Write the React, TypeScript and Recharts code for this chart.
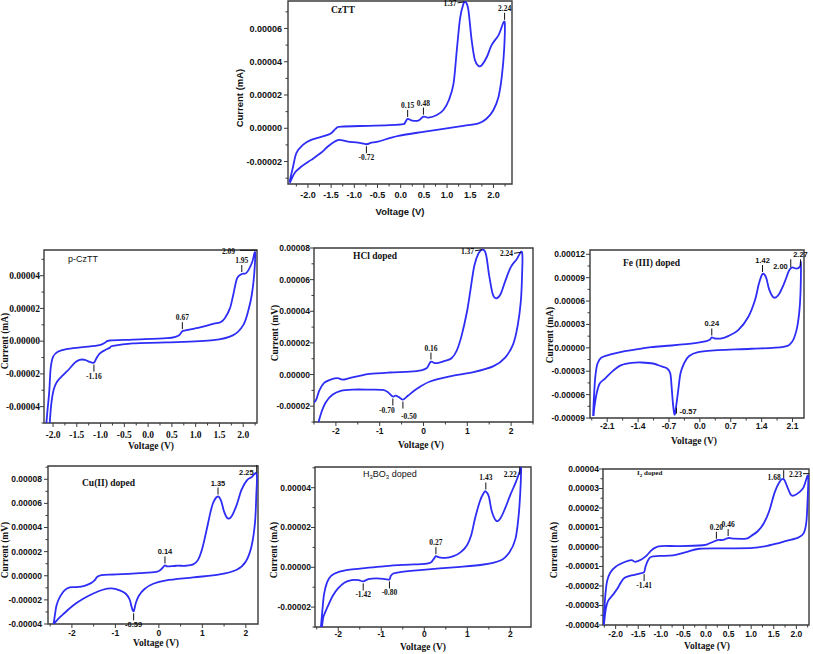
import React from 'react';
import { LineChart, Line, XAxis, YAxis, ReferenceArea, ReferenceDot } from 'recharts';

// currents are in units of 1e-5 (mA / mV as printed on each panel)

// ---- CzTT ----
const czttV = [-2.40, -2.32, -2.25, -2.11, -1.93, -1.64, -1.50, -1.39, -1.28, -0.56, 0.02, 0.09, 0.15, 0.25, 0.38, 0.49, 0.60, 0.78, 0.92, 1.04, 1.14, 1.21, 1.28, 1.35, 1.40, 1.46, 1.53, 1.60, 1.68, 1.75, 1.86, 1.96, 2.11, 2.24, 2.23, 2.18, 2.11, 2.00, 1.86, 1.68, 1.24, 0.52, -0.05, -0.49, -0.63, -0.74, -0.92, -1.14, -1.32, -1.42, -1.57, -1.71, -1.93, -2.14, -2.29, -2.38, -2.40];
const czttI = [-3.26, -2.30, -1.50, -1.00, -0.70, -0.46, -0.30, 0.00, 0.10, 0.16, 0.24, 0.34, 0.56, 0.46, 0.46, 0.70, 0.64, 0.80, 1.10, 1.70, 2.70, 4.70, 6.60, 7.46, 7.60, 7.10, 5.30, 4.10, 3.74, 3.80, 4.30, 5.00, 5.60, 6.40, 4.70, 3.10, 1.90, 1.10, 0.60, 0.30, 0.10, -0.20, -0.46, -0.80, -0.86, -0.96, -0.86, -0.80, -0.70, -0.80, -1.10, -1.46, -1.90, -2.30, -2.70, -3.22, -3.26];
const czttPeaks = [
  { v: 0.15, i: 0.56, label: '0.15' },
  { v: 0.49, i: 0.70, label: '0.48' },
  { v: -0.74, i: -0.96, label: '-0.72' },
  { v: 1.40, i: 7.60, label: '1.37' },
  { v: 2.24, i: 6.40, label: '2.24' },
];

// ---- p-CzTT ----
const pCzttV = [-2.18, -2.14, -2.12, -2.08, -2.05, -2.00, -1.90, -1.72, -1.37, -1.02, -0.91, -0.81, -0.32, 0.39, 0.60, 0.67, 0.72, 0.81, 1.09, 1.37, 1.51, 1.61, 1.72, 1.79, 1.87, 1.97, 2.07, 2.18, 2.25, 2.23, 2.18, 2.11, 2.00, 1.79, 1.37, 0.39, -0.32, -0.74, -0.81, -0.91, -1.02, -1.09, -1.14, -1.23, -1.33, -1.44, -1.54, -1.65, -1.79, -1.92, -1.99, -2.04, -2.07, -2.10];
const pCzttI = [-6.5, -5.04, -4.33, -3.10, -1.67, -0.96, -0.65, -0.49, -0.37, -0.24, -0.10, 0.04, 0.10, 0.18, 0.29, 0.41, 0.61, 0.67, 0.84, 1.06, 1.14, 1.39, 2.00, 2.82, 3.84, 4.10, 4.18, 4.76, 5.43, 4.04, 2.82, 1.90, 0.98, 0.37, 0.06, -0.08, -0.14, -0.29, -0.41, -0.55, -0.76, -1.06, -1.31, -1.27, -1.14, -1.14, -1.31, -1.67, -2.08, -2.49, -3.00, -3.92, -5.04, -6.5];
const pCzttPeaks = [
  { v: -1.14, i: -1.31, label: '-1.16' },
  { v: 0.72, i: 0.61, label: '0.67' },
  { v: 1.97, i: 4.10, label: '1.95' },
  { v: 2.25, i: 5.43, label: '2.09' },
];

// ---- HCl doped ----
const hclV = [-2.60, -2.46, -2.38, -2.27, -2.12, -1.96, -1.85, -1.69, -1.46, -1.23, -0.77, -0.31, -0.05, 0.07, 0.12, 0.17, 0.24, 0.34, 0.49, 0.64, 0.76, 0.87, 0.99, 1.07, 1.16, 1.26, 1.36, 1.43, 1.50, 1.58, 1.66, 1.76, 1.87, 1.99, 2.12, 2.25, 2.25, 2.22, 2.15, 2.05, 1.87, 1.60, 1.14, 0.61, 0.15, -0.16, -0.35, -0.47, -0.56, -0.64, -0.70, -0.81, -0.93, -1.23, -1.62, -1.89, -2.08, -2.23, -2.33, -2.40, -2.45];
const hclI = [-1.9, -1.64, -1.01, -0.53, -0.32, -0.23, -0.32, -0.23, -0.08, 0.04, 0.13, 0.19, 0.27, 0.40, 0.61, 0.82, 0.74, 0.74, 0.86, 1.03, 1.52, 2.46, 3.94, 5.31, 6.88, 7.68, 7.89, 7.56, 6.25, 5.09, 4.82, 5.09, 5.94, 6.78, 7.26, 7.73, 6.25, 4.57, 3.09, 1.94, 1.09, 0.53, 0.15, -0.11, -0.44, -0.91, -1.33, -1.58, -1.43, -1.33, -1.39, -1.12, -0.97, -0.95, -0.95, -1.03, -1.28, -1.75, -2.38, -3.05, -3.6];
const hclPeaks = [
  { v: 0.17, i: 0.82, label: '0.16' },
  { v: -0.70, i: -1.39, label: '-0.70' },
  { v: -0.47, i: -1.58, label: '-0.50' },
  { v: 1.36, i: 7.89, label: '1.37' },
  { v: 2.25, i: 7.73, label: '2.24' },
];

// ---- Fe(III) doped ----
const feV = [-2.42, -2.40, -2.37, -2.32, -2.23, -2.00, -1.70, -1.40, -1.10, -0.64, -0.11, 0.15, 0.23, 0.27, 0.34, 0.49, 0.64, 0.87, 1.10, 1.25, 1.34, 1.42, 1.50, 1.57, 1.67, 1.78, 1.91, 2.02, 2.09, 2.19, 2.27, 2.29, 2.28, 2.25, 2.19, 2.09, 1.89, 1.17, 0.42, -0.04, -0.25, -0.36, -0.44, -0.49, -0.54, -0.575, -0.61, -0.64, -0.67, -0.74, -0.87, -1.06, -1.32, -1.55, -1.78, -1.97, -2.15, -2.27, -2.34, -2.39, -2.41];
const feI = [-8.74, -6.29, -3.72, -2.01, -1.24, -0.81, -0.42, -0.17, 0.09, 0.30, 0.60, 0.86, 1.07, 1.33, 1.20, 1.20, 1.50, 2.27, 3.99, 6.13, 8.27, 9.47, 9.04, 7.50, 6.47, 6.77, 8.27, 9.90, 10.33, 10.15, 10.41, 10.84, 6.98, 4.42, 2.27, 0.78, 0.13, -0.12, -0.30, -0.55, -1.07, -2.01, -3.29, -5.43, -7.58, -8.56, -7.15, -5.01, -3.29, -2.65, -2.39, -2.01, -1.88, -1.93, -2.22, -2.95, -3.94, -4.58, -5.86, -7.58, -8.74];
const fePeaks = [
  { v: 0.27, i: 1.33, label: '0.24' },
  { v: 1.42, i: 9.47, label: '1.42' },
  { v: 2.06, i: 10.2, label: '2.00' },
  { v: 2.28, i: 10.2, label: '2.27' },
  { v: -0.575, i: -8.56, label: '-0.57' },
];

// ---- Cu(II) doped ----
const cuV = [-2.42, -2.39, -2.35, -2.27, -2.17, -2.05, -1.90, -1.71, -1.56, -1.48, -1.42, -1.32, -0.98, -0.44, -0.06, 0.04, 0.10, 0.14, 0.21, 0.40, 0.63, 0.79, 0.90, 1.00, 1.09, 1.19, 1.26, 1.36, 1.43, 1.50, 1.58, 1.67, 1.79, 1.90, 2.02, 2.13, 2.25, 2.24, 2.21, 2.13, 2.00, 1.79, 1.40, 0.79, 0.17, -0.13, -0.33, -0.46, -0.53, -0.58, -0.63, -0.67, -0.76, -0.90, -1.09, -1.29, -1.52, -1.75, -1.98, -2.17, -2.32, -2.42];
const cuI = [-4.0, -3.23, -2.40, -1.71, -1.21, -0.97, -0.94, -0.83, -0.61, -0.39, -0.11, 0.06, 0.11, 0.22, 0.33, 0.50, 0.72, 0.86, 0.77, 0.83, 0.83, 0.94, 1.32, 2.29, 3.67, 5.32, 6.15, 6.57, 6.23, 5.32, 4.77, 4.91, 5.88, 7.12, 7.89, 8.17, 8.44, 6.57, 4.36, 2.43, 1.19, 0.50, 0.11, -0.14, -0.39, -0.66, -1.10, -1.66, -2.26, -2.95, -2.54, -1.99, -1.49, -1.21, -1.05, -1.16, -1.49, -1.93, -2.48, -3.09, -3.59, -4.0];
const cuPeaks = [
  { v: 0.14, i: 0.86, label: '0.14' },
  { v: 1.36, i: 6.57, label: '1.35' },
  { v: 2.25, i: 8.44, label: '2.25' },
  { v: -0.58, i: -2.95, label: '-0.59' },
];

// ---- H3BO3 doped ----
const boV = [-2.41, -2.37, -2.33, -2.26, -2.16, -2.00, -1.73, -1.34, -0.95, -0.49, 0.02, 0.15, 0.21, 0.27, 0.33, 0.49, 0.68, 0.84, 0.99, 1.09, 1.18, 1.29, 1.38, 1.43, 1.50, 1.57, 1.67, 1.77, 1.88, 2.00, 2.12, 2.22, 2.25, 2.23, 2.19, 2.12, 1.98, 1.77, 1.38, 0.68, -0.10, -0.56, -0.72, -0.78, -0.81, -0.91, -1.11, -1.30, -1.42, -1.53, -1.69, -1.85, -2.00, -2.13, -2.23, -2.31, -2.35, -2.39];
const boI = [-3.2, -2.20, -1.36, -0.76, -0.42, -0.24, -0.12, -0.03, 0.05, 0.12, 0.17, 0.24, 0.39, 0.56, 0.51, 0.47, 0.56, 0.75, 1.10, 1.61, 2.46, 3.31, 3.73, 3.81, 3.56, 2.80, 2.34, 2.46, 2.97, 3.64, 4.24, 4.83, 5.05, 3.73, 2.54, 1.44, 0.76, 0.34, 0.14, 0.00, -0.14, -0.24, -0.31, -0.44, -0.61, -0.59, -0.56, -0.59, -0.71, -0.64, -0.64, -0.76, -1.05, -1.44, -1.90, -2.29, -2.54, -3.2];
const boPeaks = [
  { v: 0.27, i: 0.56, label: '0.27' },
  { v: 1.43, i: 3.81, label: '1.43' },
  { v: 2.22, i: 4.60, label: '2.22' },
  { v: -1.42, i: -0.71, label: '-1.42' },
  { v: -0.81, i: -0.61, label: '-0.80' },
];

// ---- I2 doped ----
const i2V = [-2.28, -2.26, -2.23, -2.19, -2.12, -2.00, -1.80, -1.65, -1.57, -1.43, -1.31, -1.21, -1.11, -0.99, -0.58, -0.07, 0.04, 0.16, 0.27, 0.38, 0.49, 0.60, 0.89, 1.00, 1.15, 1.28, 1.40, 1.52, 1.63, 1.72, 1.79, 1.87, 1.94, 2.06, 2.16, 2.26, 2.25, 2.22, 2.16, 2.04, 1.78, 1.41, 1.04, 0.45, -0.14, -0.44, -0.73, -1.03, -1.21, -1.28, -1.34, -1.37, -1.47, -1.65, -1.80, -1.89, -1.95, -2.04, -2.17, -2.22, -2.26];
const i2I = [-4.07, -3.55, -2.52, -1.75, -1.32, -1.01, -0.77, -0.67, -0.76, -0.64, -0.43, -0.17, -0.02, 0.05, 0.05, 0.09, 0.15, 0.27, 0.36, 0.36, 0.46, 0.43, 0.43, 0.57, 0.82, 1.22, 1.85, 2.80, 3.35, 3.48, 3.14, 2.71, 2.63, 2.80, 3.06, 3.66, 2.45, 1.25, 0.70, 0.48, 0.31, 0.09, -0.05, -0.07, -0.09, -0.26, -0.43, -0.46, -0.50, -0.67, -1.01, -1.29, -1.36, -1.46, -1.58, -1.84, -2.09, -2.39, -2.78, -3.21, -3.98];
const i2Peaks = [
  { v: 0.23, i: 0.32, label: '0.20' },
  { v: 0.49, i: 0.46, label: '0.46' },
  { v: 1.72, i: 3.48, label: '1.68' },
  { v: 2.26, i: 3.66, label: '2.23' },
  { v: -1.37, i: -1.29, label: '-1.41' },
];

// ---- axis ticks ----
const halfStepMajor = [-2, -1.5, -1, -0.5, 0, 0.5, 1, 1.5, 2];
const halfStepMinor = [-2.25, -1.75, -1.25, -0.75, -0.25, 0.25, 0.75, 1.25, 1.75, 2.25];
const unitMajor = [-2, -1, 0, 1, 2];
const unitMinor = [-2.5, -1.5, -0.5, 0.5, 1.5, 2.5];
const feXMajor = [-2.1, -1.4, -0.7, 0, 0.7, 1.4, 2.1];
const feXMinor = [-2.45, -1.75, -1.05, -0.35, 0.35, 1.05, 1.75];

const ARIAL = '"Liberation Sans", Arial, sans-serif';
const TIMES = '"Liberation Serif", "Times New Roman", serif';
const AXIS = '#3a3a3a';
const BLUE = '#2d2df5';

// Catmull-Rom through the points, so closed CV loops stay smooth
const catmullRom = (context: any) => {
  let pts: number[][] = [];
  return {
    areaStart() {},
    areaEnd() {},
    lineStart() { pts = []; },
    point(x: number, y: number) { pts.push([+x, +y]); },
    lineEnd() {
      if (!pts.length) return;
      context.moveTo(pts[0][0], pts[0][1]);
      for (let k = 0; k < pts.length - 1; k++) {
        const p0 = pts[k - 1] || pts[k];
        const p1 = pts[k];
        const p2 = pts[k + 1];
        const p3 = pts[k + 2] || p2;
        context.bezierCurveTo(
          p1[0] + (p2[0] - p0[0]) / 6, p1[1] + (p2[1] - p0[1]) / 6,
          p2[0] - (p3[0] - p1[0]) / 6, p2[1] - (p3[1] - p1[1]) / 6,
          p2[0], p2[1],
        );
      }
    },
  };
};

function PeakMark({ cx, cy, kind, text, font }: any) {
  const t = { fontFamily: font, fontSize: 7.5, fontWeight: 700, fill: '#111' };
  const ln = (x1: number, y1: number, x2: number, y2: number) => (
    <line x1={x1} y1={y1} x2={x2} y2={y2} stroke="#111" strokeWidth={1} />
  );
  switch (kind) {
    case 'up':
      return <g>{ln(cx, cy - 2, cx, cy - 9)}<text x={cx} y={cy - 11} textAnchor="middle" style={t}>{text}</text></g>;
    case 'upL':
      return <g>{ln(cx, cy - 1, cx, cy - 9)}<text x={cx - 3} y={cy + 1} textAnchor="end" style={t}>{text}</text></g>;
    case 'down':
      return <g>{ln(cx, cy + 2, cx, cy + 9)}<text x={cx} y={cy + 16} textAnchor="middle" style={t}>{text}</text></g>;
    case 'downL':
      return <g>{ln(cx, cy + 2, cx, cy + 9)}<text x={cx - 6} y={cy + 16} textAnchor="middle" style={t}>{text}</text></g>;
    case 'downR':
      return <g>{ln(cx, cy + 2, cx, cy + 9)}<text x={cx + 6} y={cy + 19} textAnchor="middle" style={t}>{text}</text></g>;
    case 'leftArrow':
      return <g>{ln(cx - 8, cy + 1, cx - 1, cy)}<text x={cx - 9} y={cy + 4} textAnchor="end" style={t}>{text}</text></g>;
    case 'leftBar':
      return <g>{ln(cx - 15, cy - 2, cx + 2, cy - 2)}<text x={cx - 20} y={cy + 2} textAnchor="end" style={t}>{text}</text></g>;
    case 'leftBarS':
      return <g>{ln(cx - 5, cy - 2, cx + 1, cy - 2)}<text x={cx - 6} y={cy + 1} textAnchor="end" style={t}>{text}</text></g>;
    case 'right':
      return <g>{ln(cx + 2, cy - 7, cx + 2, cy - 1)}<text x={cx + 5} y={cy - 1} textAnchor="start" style={t}>{text}</text></g>;
    default:
      return <g />;
  }
}

const PANELS: any[] = [
  {
    v: czttV, i: czttI, peaks: czttPeaks, marks: ['up', 'up', 'down', 'leftArrow', 'up'], peakFont: TIMES,
    frame: { l: 288, t: 1, r: 512, b: 184 }, xDomain: [-2.43, 2.40], yDomain: [-3.35, 7.65],
    xMajor: halfStepMajor, xMinor: halfStepMinor, xDigits: 1,
    yMajor: [-2, 0, 2, 4, 6], yMinor: [-3, -1, 1, 3, 5, 7],
    tickFont: ARIAL, tickSize: 9, xGap: 14, yGap: 6,
    labelFont: ARIAL, labelSize: 9.5, xLabel: { x: 400, y: 212 }, yLabel: { x: 240, y: 98, text: 'Current (mA)' },
    title: { x: 331, y: 11, node: 'CzTT', font: TIMES, size: 9.5, weight: 700 },
  },
  {
    v: pCzttV, i: pCzttI, peaks: pCzttPeaks, marks: ['down', 'up', 'up', 'leftBar'], peakFont: TIMES,
    frame: { l: 44, t: 250, r: 257, b: 423 }, xDomain: [-2.19, 2.29], yDomain: [-5.0, 5.57],
    xMajor: halfStepMajor, xMinor: halfStepMinor, xDigits: 1,
    yMajor: [-4, -2, 0, 2, 4], yMinor: [-5, -3, -1, 1, 3, 5],
    tickFont: TIMES, tickSize: 9.5, xGap: 15, yGap: 4,
    labelFont: TIMES, labelSize: 9.5, xLabel: { x: 151, y: 447 }, yLabel: { x: 6, y: 341, text: 'Current (mA)' },
    title: { x: 68, y: 259, node: 'p-CzTT', font: ARIAL, size: 9, weight: 400 },
  },
  {
    v: hclV, i: hclI, peaks: hclPeaks, marks: ['up', 'downL', 'downR', 'leftArrow', 'leftArrow'], peakFont: TIMES,
    frame: { l: 314, t: 248, r: 533, b: 422 }, xDomain: [-2.5, 2.5], yDomain: [-3.0, 8.0],
    xMajor: unitMajor, xMinor: unitMinor, xDigits: 0,
    yMajor: [-2, 0, 2, 4, 6, 8], yMinor: [-3, -1, 1, 3, 5, 7],
    tickFont: ARIAL, tickSize: 8.5, xGap: 12, yGap: 4,
    labelFont: TIMES, labelSize: 9.5, xLabel: { x: 421, y: 446 }, yLabel: { x: 276, y: 333, text: 'Current (mV)' },
    title: { x: 353, y: 257, node: 'HCl doped', font: TIMES, size: 9.5, weight: 700 },
  },
  {
    v: feV, i: feI, peaks: fePeaks, marks: ['up', 'up', 'upL', 'up', 'right'], peakFont: ARIAL,
    frame: { l: 590, t: 250, r: 804, b: 418 }, xDomain: [-2.49, 2.36], yDomain: [-9, 12.55],
    xMajor: feXMajor, xMinor: feXMinor, xDigits: 1,
    yMajor: [-9, -6, -3, 0, 3, 6, 9, 12], yMinor: [-7.5, -4.5, -1.5, 1.5, 4.5, 7.5, 10.5],
    tickFont: ARIAL, tickSize: 8.5, xGap: 11, yGap: 5,
    labelFont: TIMES, labelSize: 9.5, xLabel: { x: 694, y: 442 }, yLabel: { x: 551, y: 335, text: 'Current (mA)' },
    title: { x: 623, y: 264, node: 'Fe (III) doped', font: TIMES, size: 9.5, weight: 700 },
  },
  {
    v: cuV, i: cuI, peaks: cuPeaks, marks: ['up', 'up', 'upL', 'down'], peakFont: ARIAL,
    frame: { l: 48, t: 466, r: 258, b: 624 }, xDomain: [-2.55, 2.28], yDomain: [-4, 9.1],
    xMajor: unitMajor, xMinor: unitMinor, xDigits: 0,
    yMajor: [-4, -2, 0, 2, 4, 6, 8], yMinor: [-3, -1, 1, 3, 5, 7, 9],
    tickFont: ARIAL, tickSize: 8.5, xGap: 12, yGap: 6,
    labelFont: TIMES, labelSize: 9.5, xLabel: { x: 156, y: 644 }, yLabel: { x: 6, y: 550, text: 'Current (mV)' },
    title: { x: 82, y: 484, node: 'Cu(II) doped', font: TIMES, size: 9.5, weight: 700 },
  },
  {
    v: boV, i: boI, peaks: boPeaks, marks: ['up', 'up', 'upL', 'down', 'down'], peakFont: TIMES,
    frame: { l: 315, t: 467, r: 531, b: 627 }, xDomain: [-2.54, 2.48], yDomain: [-3.0, 5.04],
    xMajor: unitMajor, xMinor: unitMinor, xDigits: 0,
    yMajor: [-2, 0, 2, 4], yMinor: [-3, -1, 1, 3, 5],
    tickFont: ARIAL, tickSize: 8.5, xGap: 10, yGap: 4,
    labelFont: TIMES, labelSize: 9.5, xLabel: { x: 423, y: 648 }, yLabel: { x: 275, y: 550, text: 'Current (mA)' },
    title: { x: 363, y: 475, node: <span>H<sub style={{ fontSize: 6 }}>3</sub>BO<sub style={{ fontSize: 6 }}>3</sub> doped</span>, font: ARIAL, size: 9, weight: 400 },
  },
  {
    v: i2V, i: i2I, peaks: i2Peaks, marks: ['up', 'up', 'upL', 'leftBarS', 'down'], peakFont: TIMES,
    frame: { l: 603, t: 469, r: 809, b: 625 }, xDomain: [-2.28, 2.28], yDomain: [-4, 4],
    xMajor: halfStepMajor, xMinor: halfStepMinor, xDigits: 1,
    yMajor: [-4, -3, -2, -1, 0, 1, 2, 3, 4], yMinor: [-3.5, -2.5, -1.5, -0.5, 0.5, 1.5, 2.5, 3.5],
    tickFont: ARIAL, tickSize: 8.5, xGap: 12, yGap: 4,
    labelFont: TIMES, labelSize: 9.5, xLabel: { x: 707, y: 647 }, yLabel: { x: 555, y: 550, text: 'Current (mA)' },
    title: { x: 637, y: 474, node: <span>I<sub style={{ fontSize: 5 }}>2</sub> doped</span>, font: TIMES, size: 7, weight: 700 },
  },
];

const isIn = (list: number[], v: number) => list.some((m) => Math.abs(m - v) < 1e-9);

function Panel({ cfg }: { cfg: any }) {
  const { frame, xDomain, yDomain } = cfg;
  const w = frame.r - frame.l;
  const h = frame.b - frame.t;
  const data = cfg.v.map((v: number, k: number) => ({ v, i: cfg.i[k] }));
  const inX = (t: number) => t >= xDomain[0] - 1e-9 && t <= xDomain[1] + 1e-9;
  const inY = (t: number) => t >= yDomain[0] - 1e-9 && t <= yDomain[1] + 1e-9;
  const xTicks = [...cfg.xMajor, ...cfg.xMinor].filter(inX).sort((a, b) => a - b);
  const yTicks = [...cfg.yMajor, ...cfg.yMinor].filter(inY).sort((a, b) => a - b);
  const tickText = { fontFamily: cfg.tickFont, fontSize: cfg.tickSize, fontWeight: 700, fill: '#111' };

  const xTick = (p: any) => {
    const val = p.payload.value;
    const major = isIn(cfg.xMajor, val);
    return (
      <g>
        <line x1={p.x} y1={p.y} x2={p.x} y2={p.y + (major ? 4 : 2.5)} stroke={AXIS} strokeWidth={1} />
        {major && (
          <text x={p.x} y={p.y + cfg.xGap} textAnchor="middle" style={tickText}>
            {val.toFixed(cfg.xDigits)}
          </text>
        )}
      </g>
    );
  };
  const yTick = (p: any) => {
    const val = p.payload.value;
    const major = isIn(cfg.yMajor, val);
    return (
      <g>
        <line x1={p.x} y1={p.y} x2={p.x - (major ? 4 : 2.5)} y2={p.y} stroke={AXIS} strokeWidth={1} />
        {major && (
          <text x={p.x - cfg.yGap} y={p.y} dy="0.35em" textAnchor="end" style={tickText}>
            {(val * 1e-5).toFixed(5)}
          </text>
        )}
      </g>
    );
  };

  const labelBase: React.CSSProperties = {
    position: 'absolute',
    fontFamily: cfg.labelFont,
    fontSize: cfg.labelSize,
    fontWeight: 700,
    lineHeight: 1,
    whiteSpace: 'nowrap',
    color: '#111',
  };

  return (
    <>
      <div style={{ position: 'absolute', left: frame.l - 60, top: frame.t - 10 }}>
        <LineChart width={w + 70} height={h + 50} data={data} margin={{ top: 10, right: 10, bottom: 0, left: 0 }}>
          <XAxis
            type="number"
            dataKey="v"
            domain={xDomain}
            allowDataOverflow
            ticks={xTicks}
            interval={0}
            axisLine={false}
            tickLine={false}
            tickSize={0}
            tickMargin={0}
            height={40}
            tick={xTick}
          />
          <YAxis
            type="number"
            domain={yDomain}
            allowDataOverflow
            ticks={yTicks}
            interval={0}
            axisLine={false}
            tickLine={false}
            tickSize={0}
            tickMargin={0}
            width={60}
            tick={yTick}
          />
          <ReferenceArea
            x1={xDomain[0]}
            x2={xDomain[1]}
            y1={yDomain[0]}
            y2={yDomain[1]}
            fill="none"
            stroke={AXIS}
            strokeWidth={1.4}
            ifOverflow="visible"
          />
          <Line
            dataKey="i"
            type={catmullRom as any}
            stroke={BLUE}
            strokeWidth={1.8}
            dot={false}
            activeDot={false}
            isAnimationActive={false}
          />
          {cfg.peaks.map((pk: any, k: number) => (
            <ReferenceDot
              key={pk.label + k}
              x={pk.v}
              y={pk.i}
              r={0}
              ifOverflow="visible"
              shape={(sp: any) => (
                <PeakMark cx={sp.cx} cy={sp.cy} kind={cfg.marks[k]} text={pk.label} font={cfg.peakFont} />
              )}
            />
          ))}
        </LineChart>
      </div>
      <div
        style={{
          position: 'absolute',
          left: cfg.title.x,
          top: cfg.title.y,
          transform: 'translateY(-50%)',
          fontFamily: cfg.title.font,
          fontSize: cfg.title.size,
          fontWeight: cfg.title.weight,
          lineHeight: 1,
          whiteSpace: 'nowrap',
          color: '#111',
        }}
      >
        {cfg.title.node}
      </div>
      <div style={{ ...labelBase, left: cfg.xLabel.x, top: cfg.xLabel.y, transform: 'translate(-50%, -50%)' }}>
        Voltage (V)
      </div>
      <div
        style={{
          ...labelBase,
          left: cfg.yLabel.x,
          top: cfg.yLabel.y,
          transform: 'translate(-50%, -50%) rotate(-90deg)',
        }}
      >
        {cfg.yLabel.text}
      </div>
    </>
  );
}

export default function App() {
  return (
    <div
      style={{
        position: 'absolute',
        left: 0,
        top: 0,
        width: 813,
        height: 654,
        background: '#fff',
        overflow: 'hidden',
      }}
    >
      {PANELS.map((cfg, k) => (
        <Panel key={k} cfg={cfg} />
      ))}
    </div>
  );
}
